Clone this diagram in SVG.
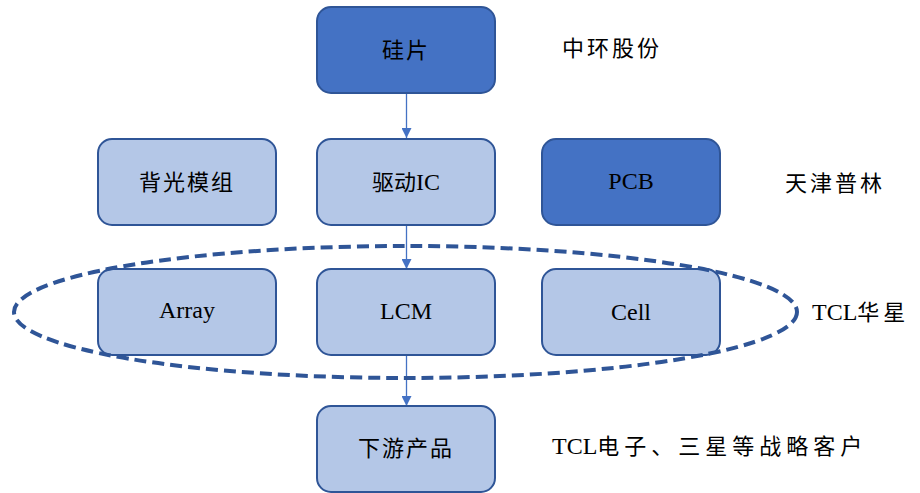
<svg xmlns="http://www.w3.org/2000/svg" width="920" height="493" viewBox="0 0 920 493">
<defs>
<style>
.dark{fill:#4472C4;stroke:#2F5597;stroke-width:2}
.light{fill:#B4C7E7;stroke:#2F5597;stroke-width:2}
text{font-family:"Liberation Serif","Noto Sans CJK SC",serif;font-size:22px;fill:#000;dominant-baseline:central}
.c{text-anchor:middle}
.l{font-size:24px}
.conn{stroke:#4472C4;stroke-width:1.3;fill:none}
</style>
<marker id="ah" viewBox="0 0 10 10" refX="10" refY="5" markerWidth="10" markerHeight="10" markerUnits="userSpaceOnUse" orient="auto">
<path d="M0,0 L10,5 L0,10 Z" fill="#4472C4"/>
</marker>
</defs>
<rect width="920" height="493" fill="#fff"/>
<g id="connectors">
<line class="conn" x1="406.5" y1="93" x2="406.5" y2="138" marker-end="url(#ah)"/>
<line class="conn" x1="406.5" y1="225" x2="406.5" y2="269" marker-end="url(#ah)"/>
<line class="conn" x1="406.5" y1="355" x2="406.5" y2="406" marker-end="url(#ah)"/>
</g>
<g id="n-silicon"><rect class="dark" x="317" y="7" width="178" height="86" rx="14"/><text class="c" x="406" y="50" letter-spacing="2">硅片</text></g>
<g id="n-backlight"><rect class="light" x="98" y="139" width="178" height="86" rx="14"/><text class="c" x="187" y="182" letter-spacing="2">背光模组</text></g>
<g id="n-driver"><rect class="light" x="317" y="139" width="178" height="86" rx="14"/><text class="c" x="406" y="182">驱动<tspan class="l">IC</tspan></text></g>
<g id="n-pcb"><rect class="dark" x="542" y="139" width="178" height="86" rx="14"/><text class="c l" x="631" y="181">PCB</text></g>
<g id="n-array"><rect class="light" x="98" y="269" width="178" height="86" rx="14"/><text class="c l" x="187" y="310">Array</text></g>
<g id="n-lcm"><rect class="light" x="317" y="269" width="178" height="86" rx="14"/><text class="c l" x="406" y="311">LCM</text></g>
<g id="n-cell"><rect class="light" x="542" y="269" width="178" height="86" rx="14"/><text class="c l" x="631" y="312">Cell</text></g>
<g id="n-downstream"><rect class="light" x="317" y="406" width="178" height="86" rx="14"/><text class="c" x="406" y="448" letter-spacing="2">下游产品</text></g>
<g id="group-tcl"><ellipse cx="405.5" cy="312" rx="391.5" ry="66" fill="none" stroke="#2F5597" stroke-width="4" stroke-dasharray="12,6"/></g>
<g id="labels">
<text x="562" y="48" letter-spacing="3">中环股份</text>
<text x="785" y="183" letter-spacing="3">天津普林</text>
<text x="812" y="312"><tspan class="l">TCL</tspan><tspan letter-spacing="4">华星</tspan></text>
<text x="552" y="446"><tspan class="l">TCL</tspan><tspan letter-spacing="5">电子、三星等战略客户</tspan></text>
</g>
</svg>
